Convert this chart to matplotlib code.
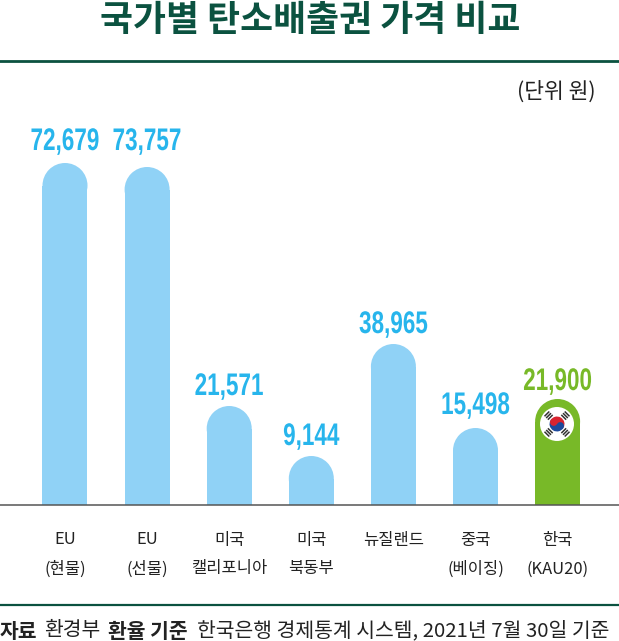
import numpy as np
import matplotlib
matplotlib.use('Agg')
import matplotlib.pyplot as plt
from matplotlib.patches import Ellipse, Circle, Wedge, Rectangle
from matplotlib.patheffects import AbstractPathEffect
from matplotlib.transforms import Affine2D

KR = ['Noto Sans CJK KR', 'DejaVu Sans']

title = '국가별 탄소배출권 가격 비교'
unit = '(단위 원)'
categories = ['EU\n(현물)', 'EU\n(선물)', '미국\n캘리포니아', '미국\n북동부', '뉴질랜드', '중국\n(베이징)', '한국\n(KAU20)']
values = [72679, 73757, 21571, 9144, 38965, 15498, 21900]
# the bars in the original are not drawn to scale, so heights are read off separately
bar_heights = [342, 338, 99, 49, 161, 77, 106]
label_gaps = [13, 17, 11, 11, 11, 14, 9]

BLUE = '#90d2f6'
BLUE_TEXT = '#27b5ec'
GREEN = '#78b928'
DARK = '#0b5240'
W, H = 619, 641
BASE = 505
STEP = 82.1
BAR_W = 45 / STEP


class Stretch(AbstractPathEffect):
    # no condensed font installed, so make the glyphs taller and narrower around the anchor
    def __init__(self, sx, sy, cx, cy):
        super().__init__()
        self.sx = sx
        self.sy = sy
        self.cx = cx
        self.cy = cy

    def draw_path(self, renderer, gc, tpath, affine, rgbFace=None):
        tr = affine + Affine2D().translate(-self.cx, -self.cy).scale(self.sx, self.sy).translate(self.cx, self.cy)
        renderer.draw_path(gc, tpath, tr, rgbFace)


fig = plt.figure(figsize=(W / 100, H / 100), dpi=100)
ax = fig.add_axes([0, 0, 1, 1])
ax.set_xlim(-65 / STEP, (W - 65) / STEP)
ax.set_ylim(BASE - H, BASE)
ax.axis('off')


def px(x, y):
    return x / W, 1 - y / H


colors = [BLUE] * 6 + [GREEN]
for i, (h, c) in enumerate(zip(bar_heights, colors)):
    ax.bar(i, h - 22.5, width=BAR_W, color=c, linewidth=0)
    ax.add_patch(Ellipse((i, h - 22.5), BAR_W, 45, color=c, linewidth=0))
    ly = h + label_gaps[i]
    cx, cy = ax.transData.transform((i, ly))
    ax.text(i, ly, f'{values[i]:,}', ha='center', va='baseline', family='Liberation Sans', weight='bold',
            fontsize=18, color=GREEN if i == 6 else BLUE_TEXT, path_effects=[Stretch(0.9, 1.25, cx, cy)])
    lines = categories[i].split('\n')
    for j, line in enumerate(lines):
        ax.text(i, -35 - 29 * j, line, ha='center', va='center', family=KR, fontsize=11.9, color='#222222')

ax.axhline(0, color='#555555', lw=1.1)

fig.add_artist(plt.Line2D([0, 1], [1 - 61 / H] * 2, color=DARK, lw=2))
fig.add_artist(plt.Line2D([0, 1], [1 - 604.5 / H] * 2, color=DARK, lw=1.6))

fig.text(*px(310, 21), title, ha='center', va='center', family=KR, weight='bold', fontsize=25.8, color=DARK)
fig.text(*px(596, 92), unit, ha='right', va='center', family=KR, fontsize=15.5, color='#222222')

footer = [
    (0, '자료', 'bold'),
    (44, '환경부', 'normal'),
    (108, '환율 기준', 'bold'),
    (197, '한국은행 경제통계 시스템, 2021년 7월 30일 기준', 'normal'),
]
for fx, s, w in footer:
    fig.text(*px(fx, 631), s, ha='left', va='center', family=KR, weight=w, fontsize=14.7, color='#222222')

# taegeuk flag on the korean bar
r = 17
fx0, fy0 = px(557 - r, 424 + r)
flag = fig.add_axes([fx0, fy0, 2 * r / W, 2 * r / H])
flag.set_xlim(-1, 1)
flag.set_ylim(-1, 1)
flag.axis('off')
flag.add_patch(Circle((0, 0), 1, color='white', lw=0))
rot = -30
flag.add_patch(Wedge((0, 0), 0.44, rot, rot + 180, color='#d8232f', lw=0))
flag.add_patch(Wedge((0, 0), 0.44, rot + 180, rot + 360, color='#1d4a9c', lw=0))
a = np.radians(rot)
dx, dy = 0.22 * np.cos(a), 0.22 * np.sin(a)
flag.add_patch(Circle((dx, dy), 0.22, color='#1d4a9c', lw=0))
flag.add_patch(Circle((-dx, -dy), 0.22, color='#d8232f', lw=0))
for ang in [45, 135, 225, 315]:
    tr = Affine2D().rotate_deg(ang - 90).translate(0.7 * np.cos(np.radians(ang)), 0.7 * np.sin(np.radians(ang)))
    for off in [-0.14, 0, 0.14]:
        flag.add_patch(Rectangle((-0.2, off - 0.045), 0.4, 0.09, color='#333333', lw=0,
                                 transform=tr + flag.transData))

fig.savefig('out.png', dpi=100)
